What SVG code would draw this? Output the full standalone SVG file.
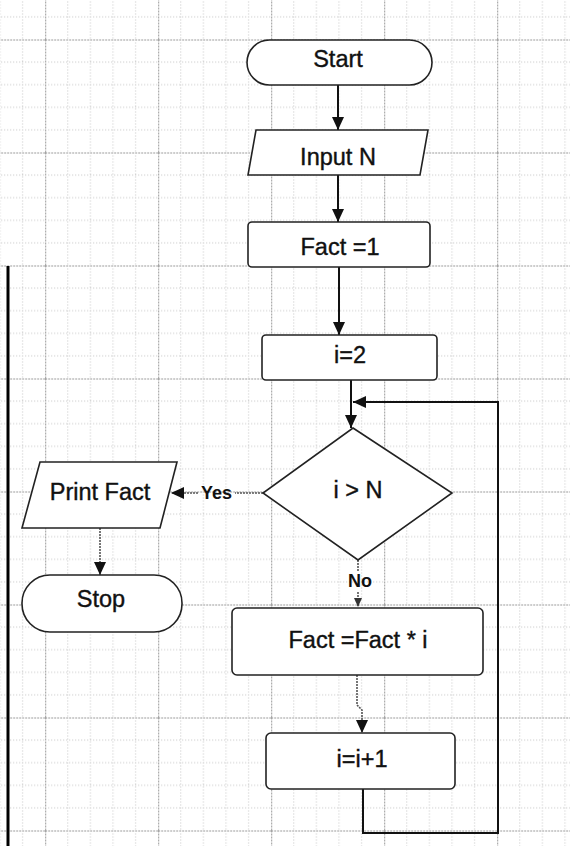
<svg xmlns="http://www.w3.org/2000/svg" width="570" height="846" viewBox="0 0 570 846">
<defs>
<pattern id="grid" patternUnits="userSpaceOnUse" x="45.2" y="39.5" width="113" height="113">
<g fill="none" stroke="#c4c4c4" stroke-width="1" stroke-dasharray="1,2">
<line x1="22.6" y1="0" x2="22.6" y2="113"/>
<line x1="45.2" y1="0" x2="45.2" y2="113"/>
<line x1="67.8" y1="0" x2="67.8" y2="113"/>
<line x1="90.4" y1="0" x2="90.4" y2="113"/>
<line x1="0" y1="22.6" x2="113" y2="22.6"/>
<line x1="0" y1="45.2" x2="113" y2="45.2"/>
<line x1="0" y1="67.8" x2="113" y2="67.8"/>
<line x1="0" y1="90.4" x2="113" y2="90.4"/>
</g>
<g fill="none" stroke="#9a9a9a" stroke-width="1" stroke-dasharray="2,1">
<line x1="0.5" y1="0" x2="0.5" y2="113"/>
<line x1="0" y1="0.5" x2="113" y2="0.5"/>
</g>
</pattern>
<marker id="arr" markerUnits="userSpaceOnUse" markerWidth="14" markerHeight="12" refX="13" refY="6" orient="auto">
<path d="M0,0 L13,6 L0,12 Z" fill="#111"/>
</marker>
<marker id="arrs" markerUnits="userSpaceOnUse" markerWidth="10" markerHeight="8" refX="9" refY="4" orient="auto">
<path d="M0,0 L9,4 L0,8 Z" fill="#333"/>
</marker>
</defs>
<style>
.shape{fill:#fff;stroke:#222;stroke-width:1.6}
.lbl{font-family:"Liberation Sans",Arial,sans-serif;font-size:23.5px;fill:#111;stroke:#111;stroke-width:0.4;text-anchor:middle}
.small{font-family:"Liberation Sans",Arial,sans-serif;font-size:18px;font-weight:bold;fill:#111;text-anchor:middle}
.conn{fill:none;stroke:#111;stroke-width:2}
.conn-grey{fill:none;stroke:#555;stroke-width:1.6;stroke-dasharray:2,1}
</style>
<rect x="0" y="0" width="570" height="846" fill="#fff"/>
<rect x="0" y="0" width="570" height="846" fill="url(#grid)"/>
<line x1="8" y1="266" x2="8" y2="846" stroke="#000" stroke-width="3"/>

<g id="connectors">
<line class="conn" x1="338" y1="85" x2="338" y2="130" marker-end="url(#arr)"/>
<line class="conn" x1="338" y1="175" x2="338" y2="222" marker-end="url(#arr)"/>
<line class="conn" x1="339" y1="267" x2="339" y2="335" marker-end="url(#arr)"/>
<line class="conn" x1="351" y1="380" x2="351" y2="428" marker-end="url(#arr)"/>
<line class="conn-grey" x1="263" y1="493" x2="235" y2="493"/>
<line class="conn-grey" x1="198" y1="493" x2="171" y2="493" marker-end="url(#arr)"/>
<text class="small" x="216.5" y="499">Yes</text>
<line class="conn-grey" x1="100" y1="528" x2="100" y2="575" marker-end="url(#arr)"/>
<line class="conn-grey" x1="358" y1="560" x2="358" y2="571"/>
<text class="small" x="360" y="587">No</text>
<line class="conn-grey" x1="358" y1="592" x2="358" y2="607" marker-end="url(#arrs)"/>
<polyline class="conn-grey" points="357,675 357,705 362,710 362,733" marker-end="url(#arr)"/>
<polyline class="conn" points="363,789 363,833 498,833 498,402 353,402" marker-end="url(#arr)"/>
</g>

<g id="start">
<rect class="shape" x="247" y="40" width="185" height="45" rx="22.5"/>
<text class="lbl" x="338" y="67">Start</text>
</g>
<g id="input">
<polygon class="shape" points="256,130 428,130 420,175 248,175"/>
<text class="lbl" x="338" y="165">Input N</text>
</g>
<g id="fact1">
<rect class="shape" x="248" y="222" width="182" height="45" rx="4"/>
<text class="lbl" x="340" y="255">Fact =1</text>
</g>
<g id="i2">
<rect class="shape" x="262" y="335" width="175" height="45" rx="4"/>
<text class="lbl" x="350" y="363">i=2</text>
</g>
<g id="decision">
<polygon class="shape" points="353,428 452,493 358,560 263,493"/>
<text class="lbl" x="358" y="498">i &gt; N</text>
</g>
<g id="print">
<polygon class="shape" points="40,462 177,462 160,528 22,528"/>
<text class="lbl" x="100" y="500">Print Fact</text>
</g>
<g id="stop">
<rect class="shape" x="22" y="575" width="160" height="57" rx="28"/>
<text class="lbl" x="101" y="607">Stop</text>
</g>
<g id="factmul">
<rect class="shape" x="232" y="608" width="251" height="67" rx="5"/>
<text class="lbl" x="358" y="648">Fact =Fact * i</text>
</g>
<g id="inc">
<rect class="shape" x="266" y="733" width="189" height="56" rx="5"/>
<text class="lbl" x="362" y="767">i=i+1</text>
</g>
</svg>
